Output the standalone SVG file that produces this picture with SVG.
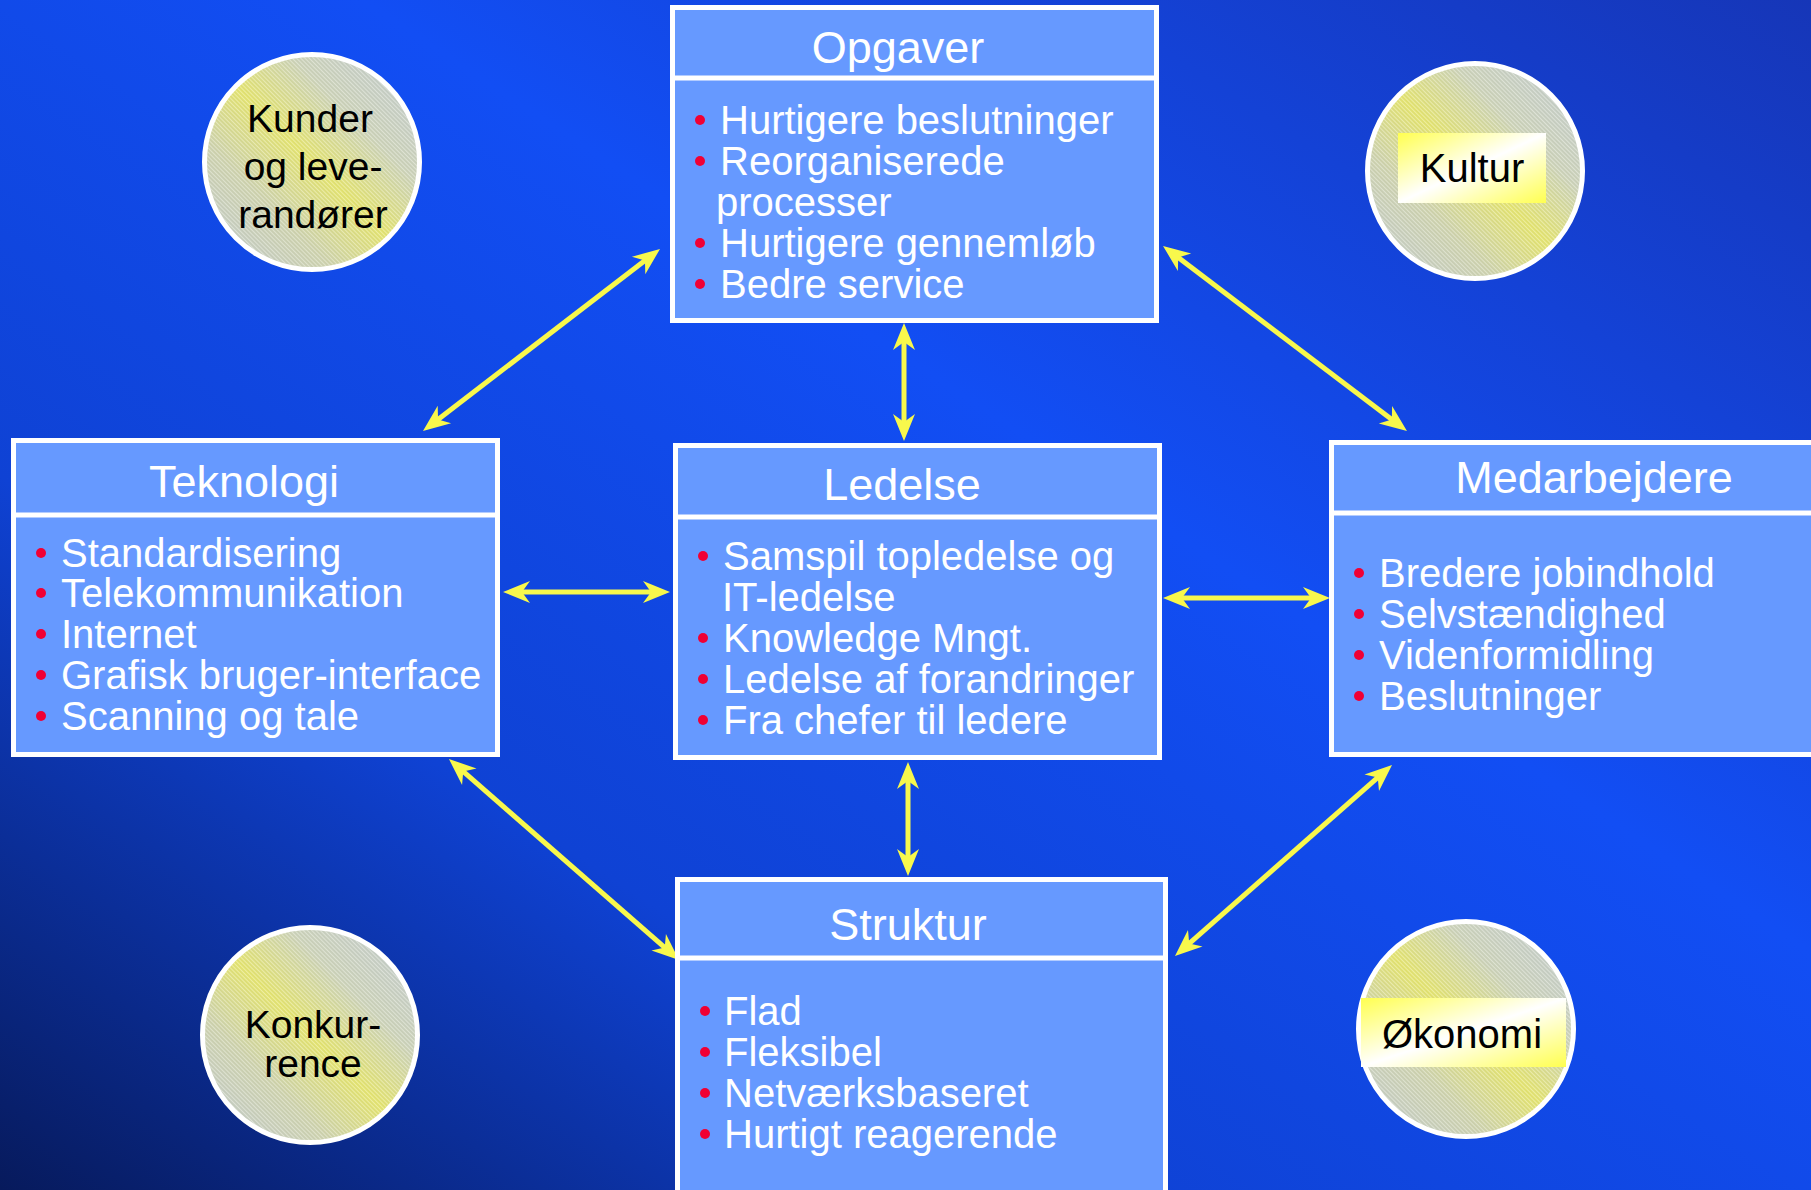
<svg xmlns="http://www.w3.org/2000/svg" width="1811" height="1190" viewBox="0 0 1811 1190">
  <defs>
    <linearGradient id="bg" x1="1" y1="0" x2="0" y2="1">
      <stop offset="0" stop-color="#1636b8"/>
      <stop offset="0.4" stop-color="#124ef4"/>
      <stop offset="0.7" stop-color="#0f42d4"/>
      <stop offset="1" stop-color="#071a5c"/>
    </linearGradient>
    <linearGradient id="disc" x1="1" y1="0" x2="0" y2="1">
      <stop offset="0" stop-color="#c2ccd4"/>
      <stop offset="0.3" stop-color="#cdd4b8"/>
      <stop offset="0.5" stop-color="#e6e66a"/>
      <stop offset="0.7" stop-color="#cfd4ac"/>
      <stop offset="1" stop-color="#c2ccd4"/>
    </linearGradient>
    <pattern id="hatch" width="3" height="3" patternUnits="userSpaceOnUse" patternTransform="rotate(-45)">
      <line x1="0.5" y1="0" x2="0.5" y2="3" stroke="#ffffff" stroke-opacity="0.45" stroke-width="0.8"/>
      <line x1="2" y1="0" x2="2" y2="3" stroke="#8a96a0" stroke-opacity="0.25" stroke-width="0.6"/>
    </pattern>
    <linearGradient id="label" x1="0" y1="0" x2="1" y2="1">
      <stop offset="0" stop-color="#ffff50"/>
      <stop offset="0.5" stop-color="#ffffff"/>
      <stop offset="1" stop-color="#ffff50"/>
    </linearGradient>
    <marker id="ah" markerUnits="userSpaceOnUse" markerWidth="40" markerHeight="30" viewBox="-40 -15 40 30" refX="-12" refY="0" orient="auto-start-reverse">
      <path d="M0,0 L-27,-11 L-19,0 L-27,11 Z" fill="#f8f84c"/>
    </marker>
  </defs>
  <style>
    .box { fill: #6699ff; stroke: #ffffff; stroke-width: 5; }
    .div { stroke: #ffffff; stroke-width: 5; }
    .title { font-family: "Liberation Sans", Arial, sans-serif; font-size: 45px; fill: #ffffff; text-anchor: middle; }
    .item { font-family: "Liberation Sans", Arial, sans-serif; font-size: 40px; fill: #ffffff; }
    .bul { fill: #f00034; }
    .disc { fill: url(#disc); stroke: #ffffff; stroke-width: 5; }
    .hatch { fill: url(#hatch); }
    .ctext { font-family: "Liberation Sans", Arial, sans-serif; font-size: 39px; fill: #000000; text-anchor: middle; }
    .conn { stroke: #f8f84c; stroke-width: 5; fill: none; marker-start: url(#ah); marker-end: url(#ah); }
  </style>
  <rect x="0" y="0" width="1811" height="1190" fill="url(#bg)"/>

  <g id="connectors">
    <line class="conn" x1="650.5" y1="256.3" x2="432.5" y2="423.7"/>
    <line class="conn" x1="1172.6" y1="253.2" x2="1397.4" y2="423.8"/>
    <line class="conn" x1="458" y1="766.9" x2="670" y2="952.1"/>
    <line class="conn" x1="1383" y1="772.9" x2="1184" y2="948.1"/>
    <line class="conn" x1="904" y1="335" x2="904" y2="429"/>
    <line class="conn" x1="908" y1="774" x2="908" y2="864"/>
    <line class="conn" x1="515" y1="592" x2="658" y2="592"/>
    <line class="conn" x1="1175" y1="598" x2="1318" y2="598"/>
  </g>

  <g id="opgaver">
    <rect class="box" x="672.5" y="7.5" width="484" height="313"/>
    <line class="div" x1="670" y1="78" x2="1159" y2="78"/>
    <text class="title" x="898" y="63">Opgaver</text>
    <circle class="bul" cx="700" cy="120" r="5"/>
    <text class="item" x="720" y="134">Hurtigere beslutninger</text>
    <circle class="bul" cx="700" cy="161" r="5"/>
    <text class="item" x="720" y="175">Reorganiserede</text>
    <text class="item" x="716" y="216">processer</text>
    <circle class="bul" cx="700" cy="243" r="5"/>
    <text class="item" x="720" y="257">Hurtigere gennemløb</text>
    <circle class="bul" cx="700" cy="284" r="5"/>
    <text class="item" x="720" y="298">Bedre service</text>
  </g>

  <g id="teknologi">
    <rect class="box" x="13.5" y="440.5" width="484" height="314"/>
    <line class="div" x1="11" y1="515" x2="500" y2="515"/>
    <text class="title" x="244" y="497">Teknologi</text>
    <circle class="bul" cx="41" cy="553" r="5"/>
    <text class="item" x="61" y="567">Standardisering</text>
    <circle class="bul" cx="41" cy="593" r="5"/>
    <text class="item" x="61" y="607">Telekommunikation</text>
    <circle class="bul" cx="41" cy="634" r="5"/>
    <text class="item" x="61" y="648">Internet</text>
    <circle class="bul" cx="41" cy="675" r="5"/>
    <text class="item" x="61" y="689">Grafisk bruger-interface</text>
    <circle class="bul" cx="41" cy="716" r="5"/>
    <text class="item" x="61" y="730">Scanning og tale</text>
  </g>

  <g id="ledelse">
    <rect class="box" x="675.5" y="445.5" width="484" height="312"/>
    <line class="div" x1="673" y1="517" x2="1162" y2="517"/>
    <text class="title" x="902" y="500">Ledelse</text>
    <circle class="bul" cx="703" cy="556" r="5"/>
    <text class="item" x="723" y="570">Samspil topledelse og</text>
    <text class="item" x="722" y="611">IT-ledelse</text>
    <circle class="bul" cx="703" cy="638" r="5"/>
    <text class="item" x="723" y="652">Knowledge Mngt.</text>
    <circle class="bul" cx="703" cy="679" r="5"/>
    <text class="item" x="723" y="693">Ledelse af forandringer</text>
    <circle class="bul" cx="703" cy="720" r="5"/>
    <text class="item" x="723" y="734">Fra chefer til ledere</text>
  </g>

  <g id="medarbejdere">
    <rect class="box" x="1331.5" y="442.5" width="500" height="312"/>
    <line class="div" x1="1329" y1="513" x2="1811" y2="513"/>
    <text class="title" x="1594" y="493">Medarbejdere</text>
    <circle class="bul" cx="1359" cy="573" r="5"/>
    <text class="item" x="1379" y="587">Bredere jobindhold</text>
    <circle class="bul" cx="1359" cy="614" r="5"/>
    <text class="item" x="1379" y="628">Selvstændighed</text>
    <circle class="bul" cx="1359" cy="655" r="5"/>
    <text class="item" x="1379" y="669">Videnformidling</text>
    <circle class="bul" cx="1359" cy="696" r="5"/>
    <text class="item" x="1379" y="710">Beslutninger</text>
  </g>

  <g id="struktur">
    <rect class="box" x="677.5" y="879.5" width="488" height="330"/>
    <line class="div" x1="675" y1="958" x2="1168" y2="958"/>
    <text class="title" x="908" y="940">Struktur</text>
    <circle class="bul" cx="705" cy="1011" r="5"/>
    <text class="item" x="724" y="1025">Flad</text>
    <circle class="bul" cx="705" cy="1052" r="5"/>
    <text class="item" x="724" y="1066">Fleksibel</text>
    <circle class="bul" cx="705" cy="1093" r="5"/>
    <text class="item" x="724" y="1107">Netværksbaseret</text>
    <circle class="bul" cx="705" cy="1134" r="5"/>
    <text class="item" x="724" y="1148">Hurtigt reagerende</text>
  </g>

  <g id="kunder">
    <circle class="disc" cx="312" cy="162" r="107.5"/>
    <circle class="hatch" cx="312" cy="162" r="105"/>
    <text class="ctext" x="310" y="132">Kunder</text>
    <text class="ctext" x="313" y="180">og leve-</text>
    <text class="ctext" x="313" y="228">randører</text>
  </g>

  <g id="kultur">
    <circle class="disc" cx="1475" cy="171" r="107.5"/>
    <circle class="hatch" cx="1475" cy="171" r="105"/>
    <rect x="1398" y="133" width="148" height="70" fill="url(#label)"/>
    <text class="ctext" x="1472" y="182" style="font-size:40px">Kultur</text>
  </g>

  <g id="konkurrence">
    <circle class="disc" cx="310" cy="1035" r="107.5"/>
    <circle class="hatch" cx="310" cy="1035" r="105"/>
    <text class="ctext" x="313" y="1038">Konkur-</text>
    <text class="ctext" x="313" y="1077">rence</text>
  </g>

  <g id="okonomi">
    <circle class="disc" cx="1466" cy="1029" r="107.5"/>
    <circle class="hatch" cx="1466" cy="1029" r="105"/>
    <rect x="1361" y="998" width="205" height="69" fill="url(#label)"/>
    <text class="ctext" x="1462" y="1048" style="font-size:40px">Økonomi</text>
  </g>
</svg>
